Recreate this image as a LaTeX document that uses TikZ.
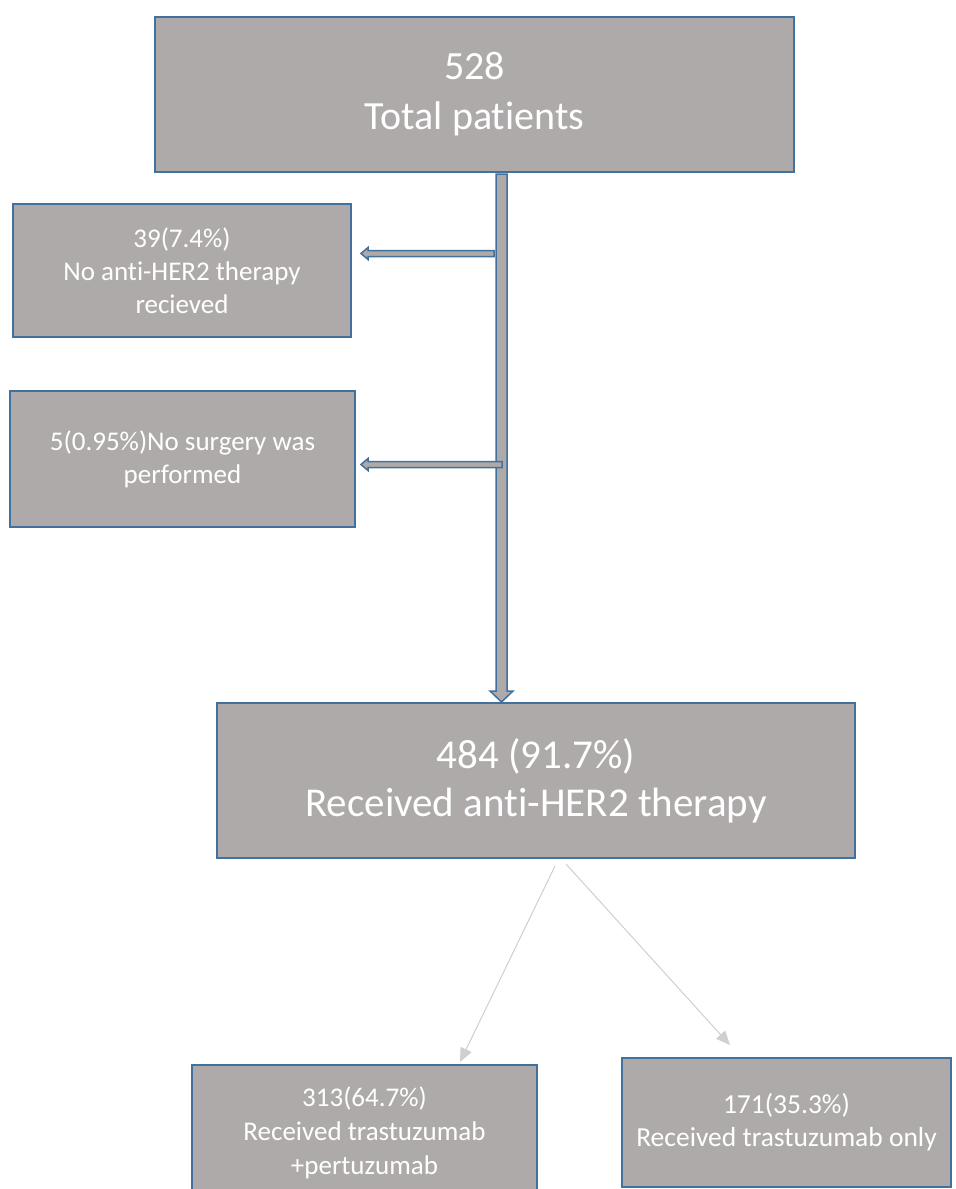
\documentclass[tikz,border=0pt]{standalone}
\usepackage{fontspec}
\setmainfont{Carlito}[Ligatures=CommonOff]
\usetikzlibrary{arrows.meta,calc}
\definecolor{boxgray}{RGB}{174,170,170}
\definecolor{boxblue}{RGB}{65,113,156}
\definecolor{arrgray}{RGB}{208,206,206}
\begin{document}
\begin{tikzpicture}[x=1pt,y=-1pt,
  box/.style={draw=boxblue, line width=2pt, fill=boxgray, text=white, inner sep=0pt, align=center},
  bigtext/.style={font=\fontsize{40}{50}\selectfont},
  smalltext/.style={font=\fontsize{27}{33}\selectfont},
  hollow/.style={fill=boxgray, draw=boxblue, line width=1.5pt, line join=miter},
  thinarrow/.style={draw=arrgray, line width=1pt, -{Triangle[length=14pt,width=12pt]}}
]
\useasboundingbox (0,0) rectangle (956,1189);

\node[box, bigtext, minimum width=639pt, minimum height=155pt] (top) at (474.5,94.5) {528\\Total patients};
\node[box, smalltext, minimum width=338pt, minimum height=133pt] (noher) at (182,270.5) {39(7.4\%)\\No anti-HER2 therapy\\recieved};
\node[box, smalltext, minimum width=345pt, minimum height=136pt] (nosurg) at (182.5,459) {5(0.95\%)No surgery was\\performed};
\node[box, bigtext, font=\fontsize{41}{48}\selectfont, minimum width=638pt, minimum height=155pt] (mid) at (536,780.5) {484 (91.7\%)\\Received anti-HER2 therapy};
\node[box, smalltext, font=\fontsize{27}{34}\selectfont, minimum width=345pt, minimum height=135pt] (tp) at (364.5,1132.5) {313(64.7\%)\\Received trastuzumab\\+pertuzumab};
\node[box, smalltext, font=\fontsize{27.5}{33}\selectfont, minimum width=329pt, minimum height=129pt] (tonly) at (786.5,1122.5) {171(35.3\%)\\Received trastuzumab only};

% vertical hollow arrow from top to mid
\coordinate (vs) at ($(top.south)+(27,0)$);
\coordinate (ve) at (vs |- mid.north);
\draw[hollow] ($(vs)+(-5.5,1)$) -- ($(vs)+(5.5,1)$) -- ($(ve)+(5.5,-11)$) -- ($(ve)+(11.5,-11)$)
  -- (ve) -- ($(ve)+(-11.5,-11)$) -- ($(ve)+(-5.5,-11)$) -- cycle;

% horizontal hollow arrows
\coordinate (h1) at ($(noher.east)+(9,-17)$);
\coordinate (h1s) at (h1 -| vs);
\draw[hollow] ($(h1s)+(-7.5,-3)$) -- ($(h1)+(7,-3)$) -- ($(h1)+(7,-6)$) -- (h1)
  -- ($(h1)+(7,6)$) -- ($(h1)+(7,3)$) -- ($(h1s)+(-7.5,3)$) -- cycle;
\coordinate (h2) at ($(nosurg.east)+(5,5.5)$);
\coordinate (h2s) at (h2 -| vs);
\draw[hollow] ($(h2s)+(0.5,-3)$) -- ($(h2)+(7,-3)$) -- ($(h2)+(7,-6)$) -- (h2)
  -- ($(h2)+(7,6)$) -- ($(h2)+(7,3)$) -- ($(h2s)+(0.5,3)$) -- cycle;

% branch arrows
\draw[thinarrow] ($(mid.south)+(19,7)$) -- ($(tp.north)+(95.5,-2)$);
\draw[thinarrow] ($(mid.south)+(30,5)$) -- ($(tonly.north)+(-56.5,-12)$);
\end{tikzpicture}
\end{document}
